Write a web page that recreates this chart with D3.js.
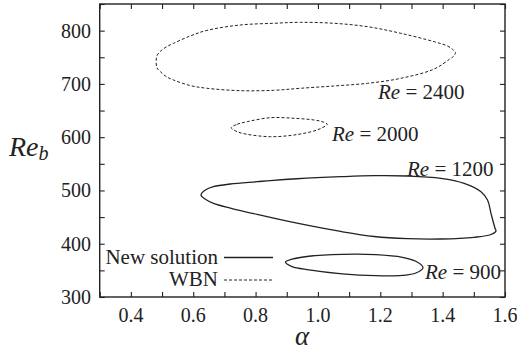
<!DOCTYPE html>
<html>
<head>
<meta charset="utf-8">
<script src="https://cdn.jsdelivr.net/npm/d3@7"></script>
<style>
  html, body { margin: 0; padding: 0; background: #fff; }
  svg { display: block; }
</style>
</head>
<body>
<svg id="chart" width="517" height="352"></svg>
<script>
// Neutral curves in the (alpha, Re_b) plane, one closed contour per Reynolds number
const curve900 = [
  [0.896, 365.2], [0.917, 371], [0.971, 376.5], [1.078, 380], [1.185, 379.5],
  [1.271, 374.5], [1.314, 367], [1.337, 355], [1.314, 345], [1.271, 340.5],
  [1.185, 340], [1.078, 343.5], [0.971, 351], [0.917, 357]
];
const curve1200 = [
  [0.625, 491.5], [0.639, 500.9], [0.665, 507.1], [0.719, 512.1], [0.805, 516.4],
  [0.848, 518.6], [0.933, 522], [1.073, 525.8], [1.18, 527.7], [1.287, 527.1],
  [1.394, 522.8], [1.469, 513.4], [1.523, 497.7], [1.544, 482.1], [1.555, 457.1],
  [1.568, 429], [1.571, 423.9], [1.555, 417.3], [1.501, 412.1], [1.394, 408.9],
  [1.287, 409.5], [1.18, 413.6], [1.073, 423], [0.933, 438.5], [0.805, 455],
  [0.719, 467], [0.665, 475.9], [0.639, 483.4]
];
const curve2000 = [
  [0.722, 617.8], [0.741, 624.2], [0.773, 629.1], [0.848, 636.6], [0.923, 635.5],
  [0.987, 632.3], [1.014, 629.1], [1.03, 624.2], [1.014, 617.8], [0.987, 611.6],
  [0.923, 604.1], [0.848, 600.9], [0.773, 605.4], [0.741, 610.3]
];
const curve2400 = [
  [0.481, 741.7], [0.484, 753.3], [0.494, 760.8], [0.513, 769.3], [0.537, 776.2],
  [0.59, 789.9], [0.644, 800.5], [0.751, 810.6], [0.858, 813.8], [0.944, 815.6],
  [1.051, 813.8], [1.159, 807.4], [1.266, 795], [1.373, 779.2], [1.416, 771],
  [1.432, 764.6], [1.441, 759], [1.436, 752.4], [1.423, 746.8], [1.373, 728],
  [1.266, 710.5], [1.159, 701.1], [1.051, 696.1], [0.944, 691.8], [0.858, 688],
  [0.751, 687.3], [0.644, 691.8], [0.59, 697], [0.537, 707.3], [0.513, 713.9],
  [0.494, 723.3], [0.484, 729.9]
];

const curveLabels = ["Re = 900", "Re = 1200", "Re = 2000", "Re = 2400"];
const legendLabels = ["New solution", "WBN"];

const xTickLabels = [0.4, 0.6, 0.8, 1.0, 1.2, 1.4, 1.6];
const yTickLabels = [300, 400, 500, 600, 700, 800];
const xMinorTicks = d3.range(3, 17).map(d => d / 10);
const yMinorTicks = d3.range(300, 851, 50);

const serif = "'Liberation Serif', 'DejaVu Serif', 'Times New Roman', Times, serif";
const svg = d3.select("#chart").attr("font-family", serif);
const plotL = 99.7, plotR = 505, plotT = 4, plotB = 297;

const x = d3.scaleLinear().domain([0.3, 1.6]).range([plotL, plotR]);
const y = d3.scaleLinear().domain([300, 850]).range([plotB, plotT]);

const ink = "#222";

// contours
const line = d3.line()
  .x(d => x(d[0]))
  .y(d => y(d[1]))
  .curve(d3.curveCatmullRomClosed.alpha(0.5));

const series = [
  { pts: curve900, dashed: false },
  { pts: curve1200, dashed: false },
  { pts: curve2000, dashed: true },
  { pts: curve2400, dashed: true }
];
svg.append("g").selectAll("path").data(series).join("path")
  .attr("d", d => line(d.pts))
  .attr("fill", "none")
  .attr("stroke", ink)
  .attr("stroke-width", d => d.dashed ? 1 : 1.3)
  .attr("stroke-dasharray", d => d.dashed ? "3,2" : null);

// inward ticks on all four sides
const tickLen = 5;
const xAxisB = d3.axisBottom(x).tickValues(xMinorTicks).tickSizeInner(-tickLen).tickSizeOuter(0).tickFormat("");
const xAxisT = d3.axisTop(x).tickValues(xMinorTicks).tickSizeInner(-tickLen).tickSizeOuter(0).tickFormat("");
const yAxisL = d3.axisLeft(y).tickValues(yMinorTicks).tickSizeInner(-tickLen).tickSizeOuter(0).tickFormat("");
const yAxisR = d3.axisRight(y).tickValues(yMinorTicks).tickSizeInner(-tickLen).tickSizeOuter(0).tickFormat("");

function styleAxis(g) {
  g.select(".domain").remove();
  g.selectAll("line").attr("stroke", ink).attr("stroke-width", 1.1);
}
svg.append("g").attr("transform", `translate(0,${plotB})`).call(xAxisB).call(styleAxis);
svg.append("g").attr("transform", `translate(0,${plotT})`).call(xAxisT).call(styleAxis);
svg.append("g").attr("transform", `translate(${plotL},0)`).call(yAxisL).call(styleAxis);
svg.append("g").attr("transform", `translate(${plotR},0)`).call(yAxisR).call(styleAxis);

// frame
svg.append("rect")
  .attr("x", plotL).attr("y", plotT)
  .attr("width", plotR - plotL).attr("height", plotB - plotT)
  .attr("fill", "none").attr("stroke", ink).attr("stroke-width", 1.4);

// text helper: every label uses the serif face
function label(sel) {
  return sel.append("text").attr("font-family", serif).attr("fill", ink);
}

// tick labels
xTickLabels.forEach(d => {
  label(svg).attr("x", x(d)).attr("y", 322)
    .attr("text-anchor", "middle").attr("font-size", 20)
    .text(d.toFixed(1));
});
yTickLabels.forEach(d => {
  label(svg).attr("x", 91).attr("y", y(d) + 7)
    .attr("text-anchor", "end").attr("font-size", 20)
    .text(d);
});

// axis titles
label(svg).attr("x", 302).attr("y", 345)
  .attr("text-anchor", "middle")
  .attr("font-size", 27).attr("font-style", "italic")
  .text("α");

const yTitle = label(svg).attr("x", 9).attr("y", 156)
  .attr("font-size", 28).attr("font-style", "italic");
yTitle.append("tspan").text("Re");
yTitle.append("tspan").attr("font-size", 20).attr("dy", 4).text("b");

// curve labels: italic "Re" followed by the value
const labelPos = [
  { x: 425, y: 279 },
  { x: 407, y: 176 },
  { x: 332, y: 141 },
  { x: 378, y: 99 }
];
curveLabels.forEach((s, i) => {
  const t = label(svg).attr("x", labelPos[i].x).attr("y", labelPos[i].y)
    .attr("font-size", 21);
  const parts = s.split(" ");
  t.append("tspan").attr("font-style", "italic").text(parts[0]);
  t.append("tspan").text(" " + parts.slice(1).join(" "));
});

// legend
const legendY = [257.5, 280];
legendLabels.forEach((s, i) => {
  label(svg).attr("x", 218).attr("y", legendY[i] + 6)
    .attr("text-anchor", "end").attr("font-size", 21)
    .text(s);
  svg.append("line")
    .attr("x1", 224).attr("x2", 273)
    .attr("y1", legendY[i]).attr("y2", legendY[i])
    .attr("stroke", ink)
    .attr("stroke-width", i === 0 ? 1.3 : 1)
    .attr("stroke-dasharray", i === 0 ? null : "3,2");
});
</script>
</body>
</html>
